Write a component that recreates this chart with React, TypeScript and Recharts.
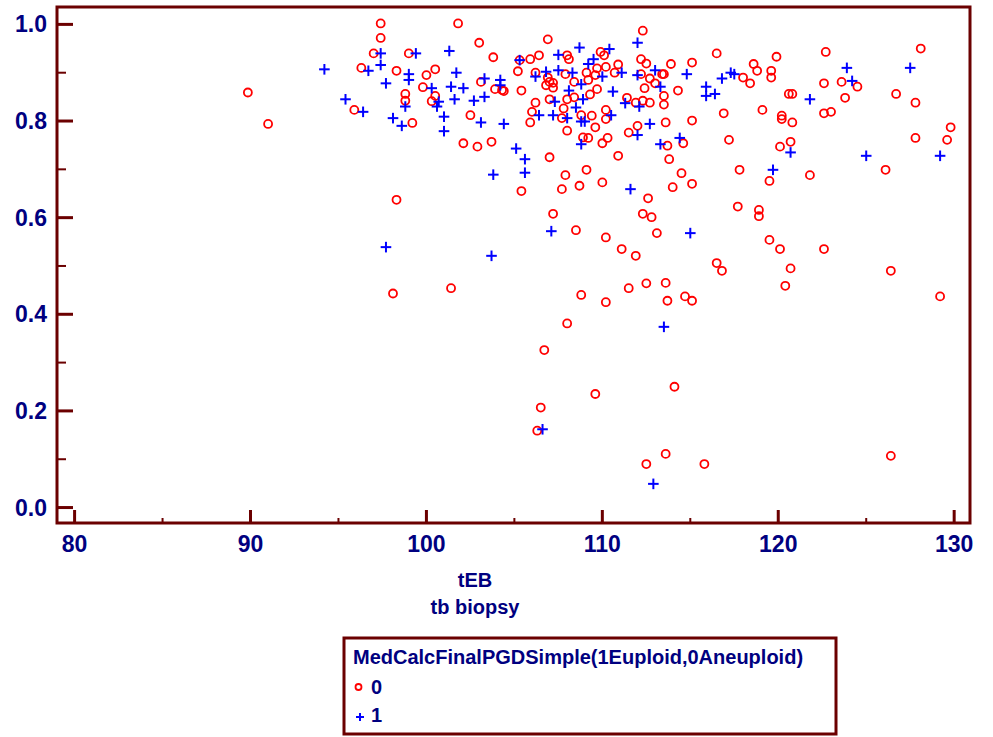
import React from "react";
import { ScatterChart, Scatter, XAxis, YAxis, ReferenceArea } from "recharts";

const xTicks = [80, 85, 90, 95, 100, 105, 110, 115, 120, 125, 130];
const yTicks = [0, 0.1, 0.2, 0.3, 0.4, 0.5, 0.6, 0.7, 0.8, 0.9, 1.0];
const xDomain: [number, number] = [79, 130.9];
const yDomain: [number, number] = [-0.032, 1.036];

const xTitle = "tEB";
const xSubtitle = "tb biopsy";
const legendTitle = "MedCalcFinalPGDSimple(1Euploid,0Aneuploid)";
const groupNames = ["0", "1"];

// group 0 (aneuploid) - red circles, [tEB, value]
const group0: [number, number][] = [
  [89.85, 0.859], [91.0, 0.794], [97.4, 1.002], [97.4, 0.972], [101.8, 1.002],
  [97.0, 0.94], [99.0, 0.94], [96.3, 0.91], [98.3, 0.904], [100.0, 0.895],
  [100.5, 0.907], [103.0, 0.962], [103.8, 0.932], [99.8, 0.87], [98.8, 0.856],
  [98.8, 0.842], [100.5, 0.852], [100.3, 0.841], [95.9, 0.823], [99.2, 0.796],
  [103.1, 0.881], [103.9, 0.866], [104.3, 0.864], [104.4, 0.862], [105.4, 0.863],
  [102.5, 0.812], [102.1, 0.754], [102.9, 0.747], [103.7, 0.757], [98.3, 0.637],
  [105.3, 0.926], [105.2, 0.903], [105.9, 0.928], [106.4, 0.936], [106.9, 0.969],
  [106.2, 0.9], [106.9, 0.89], [107.0, 0.881], [107.2, 0.879], [106.8, 0.874],
  [107.2, 0.869], [108.0, 0.936], [108.1, 0.928], [107.9, 0.897], [108.4, 0.881],
  [107.0, 0.845], [106.2, 0.838], [106.0, 0.819], [105.9, 0.797], [107.8, 0.826],
  [108.0, 0.845], [108.4, 0.849], [107.7, 0.806], [108.0, 0.78], [108.8, 0.812],
  [109.4, 0.811], [109.6, 0.787], [108.9, 0.766], [109.2, 0.765], [110.0, 0.754],
  [110.3, 0.765], [110.2, 0.823], [110.2, 0.804], [109.3, 0.855], [109.7, 0.866],
  [109.2, 0.885], [109.1, 0.9], [109.6, 0.895], [109.7, 0.909], [109.9, 0.943],
  [110.1, 0.936], [110.2, 0.912], [110.7, 0.9], [110.9, 0.917], [111.4, 0.848],
  [111.9, 0.838], [112.3, 0.842], [112.0, 0.79], [111.5, 0.776], [110.9, 0.728],
  [107.0, 0.725], [107.9, 0.688], [109.1, 0.699], [107.7, 0.659], [108.7, 0.666],
  [110.0, 0.673], [105.4, 0.655], [107.2, 0.608], [108.5, 0.574], [110.2, 0.559],
  [111.1, 0.535], [111.9, 0.521], [112.3, 0.987], [112.2, 0.928], [112.5, 0.919],
  [112.2, 0.897], [112.4, 0.868], [112.3, 0.608], [112.6, 0.64], [112.7, 0.888],
  [113.0, 0.878], [113.4, 0.897], [113.5, 0.897], [113.5, 0.852], [113.5, 0.834],
  [112.7, 0.838], [113.9, 0.918], [115.1, 0.921], [116.5, 0.94], [114.3, 0.863],
  [113.6, 0.797], [115.1, 0.801], [113.7, 0.749], [114.6, 0.754], [113.8, 0.721],
  [114.5, 0.692], [114.0, 0.663], [115.1, 0.67], [112.8, 0.601], [113.1, 0.568],
  [116.9, 0.816], [117.2, 0.761], [117.8, 0.699], [117.7, 0.623], [116.5, 0.506],
  [116.8, 0.49], [118.6, 0.918], [118.8, 0.904], [119.9, 0.933], [119.6, 0.904],
  [119.6, 0.89], [118.0, 0.89], [118.4, 0.878], [119.1, 0.823], [120.2, 0.811],
  [120.2, 0.804], [120.8, 0.797], [120.6, 0.856], [120.8, 0.856], [120.7, 0.757],
  [120.1, 0.747], [121.8, 0.688], [119.5, 0.676], [118.9, 0.616], [118.9, 0.603],
  [119.5, 0.554], [120.1, 0.535], [122.6, 0.535], [120.7, 0.495], [126.4, 0.49],
  [122.7, 0.943], [122.6, 0.878], [123.6, 0.881], [124.5, 0.871], [123.8, 0.848],
  [122.6, 0.816], [123.0, 0.819], [128.1, 0.95], [126.7, 0.856], [127.8, 0.838],
  [129.8, 0.787], [129.6, 0.761], [127.8, 0.765], [126.1, 0.699], [98.1, 0.443],
  [101.4, 0.454], [108.8, 0.44], [110.2, 0.425], [111.5, 0.454], [112.5, 0.464],
  [108.0, 0.381], [106.7, 0.326], [109.6, 0.235], [106.5, 0.207], [106.3, 0.159],
  [112.5, 0.09], [120.4, 0.459], [113.6, 0.465], [113.7, 0.428], [114.7, 0.437],
  [115.1, 0.428], [129.2, 0.437], [114.1, 0.25], [113.6, 0.111], [115.8, 0.09],
  [126.4, 0.107],
];

// group 1 (euploid) - blue pluses
const group1: [number, number][] = [
  [94.2, 0.907], [97.4, 0.94], [97.4, 0.916], [96.7, 0.904], [95.4, 0.845],
  [96.4, 0.819], [97.7, 0.878], [98.1, 0.806], [98.6, 0.79], [99.4, 0.94],
  [99.0, 0.897], [99.0, 0.885], [98.8, 0.83], [101.3, 0.945], [101.7, 0.9],
  [100.3, 0.868], [100.7, 0.84], [100.6, 0.83], [101.0, 0.809], [101.0, 0.779],
  [101.4, 0.871], [102.1, 0.868], [101.6, 0.845], [102.7, 0.842], [103.3, 0.85],
  [103.1, 0.797], [103.3, 0.888], [104.2, 0.885], [104.2, 0.874], [104.4, 0.794],
  [105.1, 0.743], [105.6, 0.721], [105.6, 0.693], [103.8, 0.689], [97.7, 0.539],
  [103.7, 0.521], [107.1, 0.572], [111.6, 0.659], [110.4, 0.949], [108.7, 0.952],
  [107.5, 0.937], [109.5, 0.928], [109.2, 0.918], [107.5, 0.905], [108.3, 0.9],
  [106.2, 0.892], [106.8, 0.902], [108.8, 0.876], [110.0, 0.892], [111.1, 0.9],
  [110.6, 0.861], [108.1, 0.863], [108.9, 0.845], [107.3, 0.84], [108.5, 0.828],
  [106.4, 0.812], [107.2, 0.812], [108.0, 0.806], [108.8, 0.799], [109.0, 0.799],
  [110.5, 0.812], [108.8, 0.752], [112.0, 0.962], [112.0, 0.771], [111.3, 0.837],
  [112.1, 0.83], [112.0, 0.895], [112.7, 0.794], [105.3, 0.926], [113.0, 0.905],
  [113.3, 0.871], [114.8, 0.897], [115.9, 0.871], [115.9, 0.852], [116.4, 0.856],
  [116.8, 0.888], [117.3, 0.9], [117.5, 0.897], [113.3, 0.752], [114.4, 0.765],
  [120.7, 0.735], [119.7, 0.699], [115.0, 0.568], [121.8, 0.845], [123.9, 0.91],
  [124.2, 0.883], [125.0, 0.728], [127.5, 0.91], [129.2, 0.728], [106.6, 0.162],
  [113.5, 0.374], [112.9, 0.049],
];

const MAROON = "#6b0000";
const NAVY = "#000080";
const RED = "#ff0000";
const BLUE = "#0000ff";
const FONT = "'Liberation Sans', Arial, sans-serif";

const toPoints = (rows: [number, number][]) => rows.map(([x, y]) => ({ x, y }));

const CircleMark = ({ cx, cy, r = 4 }: any) => (
  <circle cx={cx} cy={cy} r={r} fill="none" stroke={RED} strokeWidth={1.8} />
);

const PlusMark = ({ cx, cy, s = 5.3 }: any) => (
  <g stroke={BLUE} strokeWidth={2}>
    <line x1={cx - s} x2={cx + s} y1={cy} y2={cy} />
    <line x1={cx} x2={cx} y1={cy - s} y2={cy + s} />
  </g>
);

const XTick = ({ x, y, payload }: any) => {
  const v = payload.value;
  const major = v % 10 === 0;
  return (
    <g>
      <line x1={x} x2={x} y1={y} y2={y - (major ? 13 : 5)} stroke={MAROON} strokeWidth={major ? 3 : 2} />
      {major && (
        <text x={x} y={y + 29} textAnchor="middle" fill={NAVY} fontSize={23} fontWeight="bold" fontFamily={FONT}>
          {v}
        </text>
      )}
    </g>
  );
};

const YTick = ({ x, y, payload }: any) => {
  const v = payload.value;
  const major = Math.round(v * 10) % 2 === 0;
  return (
    <g>
      <line x1={x} x2={x + (major ? 16 : 9)} y1={y} y2={y} stroke={MAROON} strokeWidth={major ? 3 : 2} />
      {major && (
        <text x={x - 10} y={y + 8} textAnchor="end" fill={NAVY} fontSize={23} fontWeight="bold" fontFamily={FONT}>
          {v.toFixed(1)}
        </text>
      )}
    </g>
  );
};

const XTitle = ({ viewBox }: any) => {
  const cx = viewBox.x + 418;
  return (
    <g fill={NAVY} fontSize={20} fontWeight="bold" fontFamily={FONT} textAnchor="middle">
      <text x={cx} y={viewBox.y + 64}>{xTitle}</text>
      <text x={cx} y={viewBox.y + 91}>{xSubtitle}</text>
    </g>
  );
};

export default function App() {
  return (
    <div style={{ position: "absolute", left: 0, top: 0, width: 993, height: 737, background: "#fff" }}>
      <ScatterChart width={993} height={737} margin={{ top: 7, right: 23, left: 0, bottom: 0 }}>
        <XAxis
          type="number"
          dataKey="x"
          domain={xDomain}
          ticks={xTicks}
          interval={0}
          allowDataOverflow
          height={214}
          axisLine={false}
          tickLine={false}
          tickSize={0}
          tickMargin={0}
          tick={<XTick />}
          label={<XTitle />}
        />
        <YAxis
          type="number"
          dataKey="y"
          domain={yDomain}
          ticks={yTicks}
          interval={0}
          allowDataOverflow
          width={57}
          axisLine={false}
          tickLine={false}
          tickSize={0}
          tickMargin={0}
          tick={<YTick />}
        />
        <ReferenceArea
          x1={xDomain[0]}
          x2={xDomain[1]}
          y1={yDomain[0]}
          y2={yDomain[1]}
          fill="none"
          fillOpacity={0}
          stroke={MAROON}
          strokeWidth={3}
          ifOverflow="visible"
        />
        <Scatter name={groupNames[0]} data={toPoints(group0)} shape={<CircleMark />} isAnimationActive={false} />
        <Scatter name={groupNames[1]} data={toPoints(group1)} shape={<PlusMark />} isAnimationActive={false} />
      </ScatterChart>
      <svg width={993} height={737} style={{ position: "absolute", left: 0, top: 0, pointerEvents: "none" }}>
        <rect x={344} y={638} width={492} height={96} fill="none" stroke={MAROON} strokeWidth={3} />
        <g fill={NAVY} fontSize={20} fontWeight="bold" fontFamily={FONT}>
          <text x={353} y={664}>{legendTitle}</text>
          <text x={371} y={694}>{groupNames[0]}</text>
          <text x={371} y={722}>{groupNames[1]}</text>
        </g>
        <CircleMark cx={358.5} cy={687} r={3} />
        <PlusMark cx={360} cy={717} s={4} />
      </svg>
    </div>
  );
}
